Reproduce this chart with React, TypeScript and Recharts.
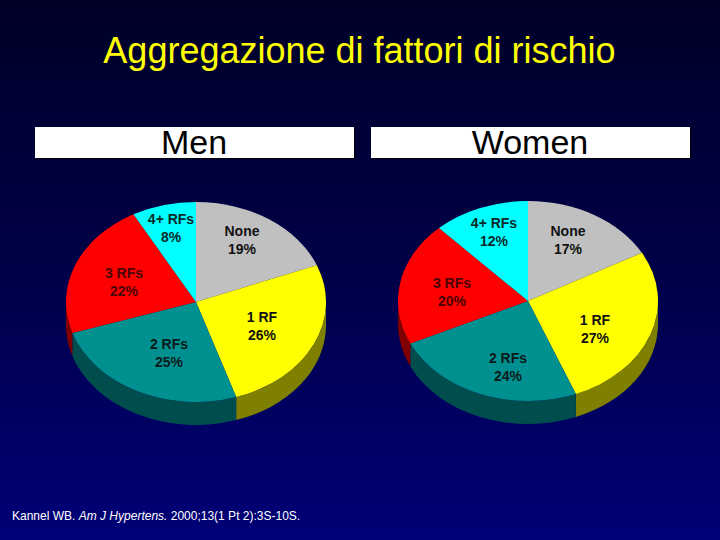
import React from 'react';
import { PieChart, Pie } from 'recharts';

const categories = ['None', '1 RF', '2 RFs', '3 RFs', '4+ RFs'];
const menValues = [19, 26, 25, 22, 8];
const womenValues = [17, 27, 24, 20, 12];
const topColors = ['#C0C0C0', '#FFFF00', '#009090', '#FF0000', '#00FFFF'];
const sideColors = ['#606060', '#808000', '#004D4D', '#800000', '#008080'];
const labelColors = ['#111', '#111', '#0a1a1a', '#4a0505', '#0a2a2a'];

// centre of the first label line, relative to the pie centre
const menLabelOffsets = [[46, -71], [66, 15], [-27, 42], [-72, -29], [-25, -83]];
const womenLabelOffsets = [[40, -70], [67, 19], [-20, 57], [-76, -18], [-34, -78]];

const SQUASH = 100 / 130;
const DEPTH = 23;

const pt = (cx: number, cy: number, r: number, deg: number) => {
  const a = (-deg * Math.PI) / 180;
  return [cx + r * Math.cos(a), cy + r * SQUASH * Math.sin(a)];
};

// top face, a sector on a flattened circle
const TopSlice = (props: any) => {
  const { cx, cy, outerRadius: r, startAngle, endAngle, fill } = props;
  const [x1, y1] = pt(cx, cy, r, startAngle);
  const [x2, y2] = pt(cx, cy, r, endAngle);
  const large = Math.abs(startAngle - endAngle) > 180 ? 1 : 0;
  const sweep = startAngle > endAngle ? 1 : 0;
  const d = `M${cx},${cy} L${x1},${y1} A${r},${r * SQUASH} 0 ${large} ${sweep} ${x2},${y2} Z`;
  return <path d={d} fill={fill} />;
};

// front wall, only the part of the rim that faces the viewer
const SideSlice = (props: any) => {
  const { cx, cy, outerRadius: r, startAngle, endAngle, fill } = props;
  const from = Math.min(startAngle, 0);
  const to = Math.max(endAngle, -180);
  if (from <= to) return <g />;
  const [x1, y1] = pt(cx, cy, r, from);
  const [x2, y2] = pt(cx, cy, r, to);
  const ry = r * SQUASH;
  const d = `M${x1},${y1} A${r},${ry} 0 0 1 ${x2},${y2} L${x2},${y2 + DEPTH} A${r},${ry} 0 0 0 ${x1},${y1 + DEPTH} Z`;
  return <path d={d} fill={fill} />;
};

const makeLabel = (offsets: number[][]) => (props: any) => {
  const { cx, cy, index, name, value } = props;
  const [dx, dy] = offsets[index];
  return (
    <text
      x={cx + dx}
      y={cy + dy + 5}
      textAnchor="middle"
      fontFamily="Liberation Sans"
      fontSize={14}
      fontWeight="bold"
      fill={labelColors[index]}
    >
      <tspan x={cx + dx} dy={0}>{name}</tspan>
      <tspan x={cx + dx} dy={18}>{value}%</tspan>
    </text>
  );
};

const withFill = (values: number[], colors: string[]) =>
  values.map((value, i) => ({ name: categories[i], value, fill: colors[i] }));

const headerBox = (left: number, text: string, center: number) => (
  <div
    style={{
      position: 'absolute',
      left,
      top: 127,
      width: 319,
      height: 31,
      background: '#fff',
      boxShadow: '1px 1px 0 #000',
    }}
  >
    <div
      style={{
        position: 'absolute',
        left: center - left - 100,
        top: -2,
        width: 200,
        textAlign: 'center',
        fontSize: 34,
        lineHeight: '35px',
        color: '#000',
      }}
    >
      {text}
    </div>
  </div>
);

export default function App() {
  return (
    <div
      style={{
        position: 'absolute',
        left: 0,
        top: 0,
        width: 720,
        height: 540,
        overflow: 'hidden',
        fontFamily: 'Liberation Sans',
        background: 'linear-gradient(to bottom, #000028 0%, #000048 50%, #000078 100%)',
      }}
    >
      <div
        style={{
          position: 'absolute',
          left: 0,
          top: 31,
          width: 719,
          textAlign: 'center',
          color: '#FFFF00',
          fontSize: 36,
          lineHeight: '40px',
        }}
      >
        Aggregazione di fattori di rischio
      </div>
      {headerBox(35, 'Men', 194)}
      {headerBox(371, 'Women', 530)}
      <div style={{ position: 'absolute', left: 0, top: 0 }}>
        {/* recharts adds its default 5px margin to numeric cx/cy */}
        <PieChart width={720} height={540}>
          <Pie data={withFill(menValues, sideColors)} dataKey="value" nameKey="name" cx={191} cy={297} outerRadius={130}
            startAngle={90} endAngle={-270} stroke="none" shape={SideSlice} isAnimationActive={false} />
          <Pie data={withFill(menValues, topColors)} dataKey="value" nameKey="name" cx={191} cy={297} outerRadius={130}
            startAngle={90} endAngle={-270} stroke="none" shape={TopSlice} labelLine={false}
            label={makeLabel(menLabelOffsets)} isAnimationActive={false} />
          <Pie data={withFill(womenValues, sideColors)} dataKey="value" nameKey="name" cx={523} cy={296} outerRadius={130}
            startAngle={90} endAngle={-270} stroke="none" shape={SideSlice} isAnimationActive={false} />
          <Pie data={withFill(womenValues, topColors)} dataKey="value" nameKey="name" cx={523} cy={296} outerRadius={130}
            startAngle={90} endAngle={-270} stroke="none" shape={TopSlice} labelLine={false}
            label={makeLabel(womenLabelOffsets)} isAnimationActive={false} />
        </PieChart>
      </div>
      <div style={{ position: 'absolute', left: 12, top: 509, color: '#fff', fontSize: 12, lineHeight: '14px', whiteSpace: 'nowrap' }}>
        Kannel WB. <i>Am J Hypertens.</i> 2000;13(1 Pt 2):3S-10S.
      </div>
    </div>
  );
}
